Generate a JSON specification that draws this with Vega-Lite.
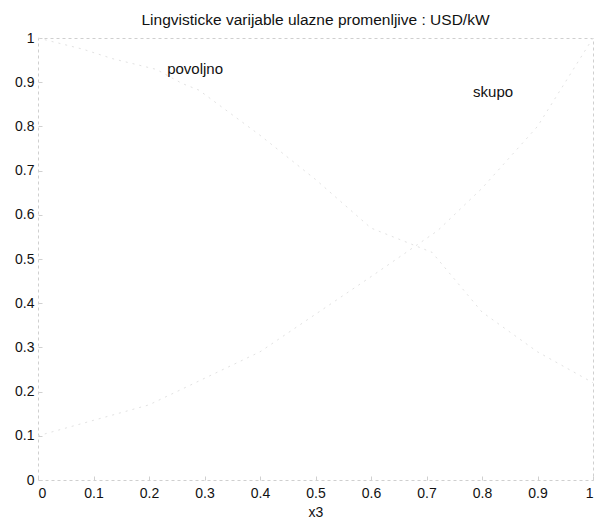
{
  "$schema": "https://vega.github.io/schema/vega-lite/v6.json",
  "autosize": "none",
  "width": 555,
  "height": 442,
  "padding": {"left": 38, "top": 38, "right": 6, "bottom": 43},
  "background": "white",
  "title": {"text": "Lingvisticke varijable ulazne promenljive : USD/kW", "font": "Liberation Sans", "fontSize": 15.5, "fontWeight": "normal", "color": "#111", "anchor": "middle", "baseline": "bottom", "offset": -12},
  "config": {
    "view": {"stroke": "#cfcfcf", "strokeDash": [3, 3], "strokeWidth": 1},
    "axis": {"labelFont": "Liberation Sans", "labelFontSize": 14, "labelColor": "#111", "titleFont": "Liberation Sans", "titleFontSize": 14, "titleFontWeight": "normal", "titleColor": "#111", "grid": false, "domain": false, "tickColor": "#d0d0d0", "tickSize": -4, "format": "~g"}
  },
  "datasets": {
    "curves": [
      {"s": "povoljno", "x": 0, "y": 1},
      {"s": "povoljno", "x": 0.08, "y": 0.975},
      {"s": "povoljno", "x": 0.135, "y": 0.953},
      {"s": "povoljno", "x": 0.213, "y": 0.929},
      {"s": "povoljno", "x": 0.26, "y": 0.897},
      {"s": "povoljno", "x": 0.29, "y": 0.882},
      {"s": "povoljno", "x": 0.4, "y": 0.78},
      {"s": "povoljno", "x": 0.5, "y": 0.68},
      {"s": "povoljno", "x": 0.6, "y": 0.57},
      {"s": "povoljno", "x": 0.71, "y": 0.515},
      {"s": "povoljno", "x": 0.8, "y": 0.38},
      {"s": "povoljno", "x": 0.9, "y": 0.29},
      {"s": "povoljno", "x": 1, "y": 0.22},
      {"s": "skupo", "x": 0, "y": 0.1},
      {"s": "skupo", "x": 0.2, "y": 0.17},
      {"s": "skupo", "x": 0.4, "y": 0.29},
      {"s": "skupo", "x": 0.6, "y": 0.46},
      {"s": "skupo", "x": 0.72, "y": 0.564},
      {"s": "skupo", "x": 0.8, "y": 0.66},
      {"s": "skupo", "x": 0.9, "y": 0.8},
      {"s": "skupo", "x": 1, "y": 1}
    ],
    "labels": [
      {"t": "povoljno", "x": 0.283, "y": 0.93},
      {"t": "skupo", "x": 0.82, "y": 0.878}
    ]
  },
  "layer": [
    {
      "data": {"name": "curves"},
      "mark": {"type": "line", "strokeWidth": 1, "strokeDash": [2, 5], "color": "#e2e2e2"},
      "encoding": {
        "x": {"field": "x", "type": "quantitative", "scale": {"domain": [0, 1], "nice": false, "zero": false}, "axis": {"values": [0, 0.1, 0.2, 0.3, 0.4, 0.5, 0.6, 0.7, 0.8, 0.9, 1], "title": "x3", "labelPadding": 10, "titlePadding": 5}},
        "y": {"field": "y", "type": "quantitative", "scale": {"domain": [0, 1], "nice": false}, "axis": {"values": [0, 0.1, 0.2, 0.3, 0.4, 0.5, 0.6, 0.7, 0.8, 0.9, 1], "title": null, "labelPadding": 8}},
        "detail": {"field": "s"}
      }
    },
    {
      "data": {"name": "labels"},
      "mark": {"type": "text", "font": "Liberation Sans", "fontSize": 15, "color": "#111", "align": "center", "baseline": "middle"},
      "encoding": {
        "x": {"field": "x", "type": "quantitative"},
        "y": {"field": "y", "type": "quantitative"},
        "text": {"field": "t"}
      }
    }
  ]
}
